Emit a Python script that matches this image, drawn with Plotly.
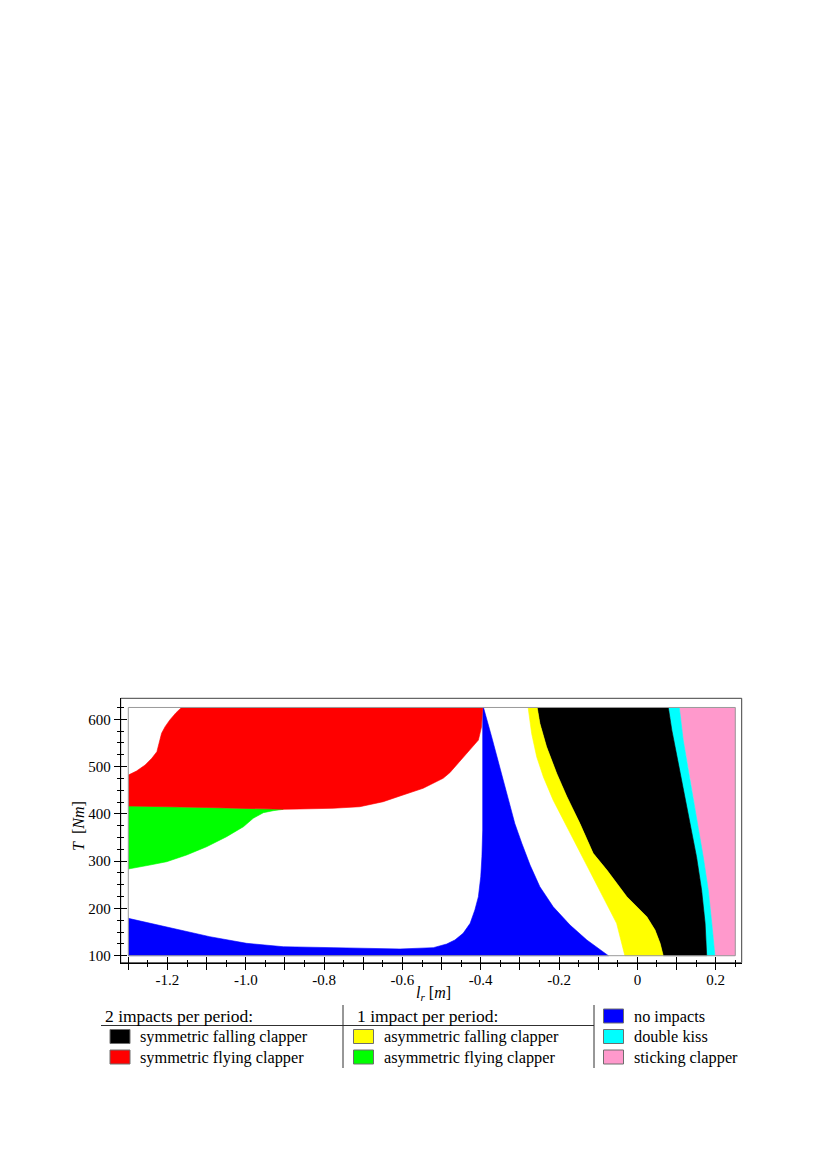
import plotly.graph_objects as go

# colores de las regiones
BLACK = '#000000'
RED = '#FF0000'
YELLOW = '#FFFF00'
GREEN = '#00FF00'
BLUE = '#0000FF'
CYAN = '#00FFFF'
PINK = '#FF99CC'
FONT = 'Liberation Serif, Times New Roman, serif'

# extent of the map in data units
L_RANGE = [-1.3, 0.25]
T_RANGE = [100, 625]

# region boundaries, (l_r, T)
RED_TOP_L = [-1.3, -1.279, -1.257, -1.240, -1.227, -1.221, -1.215, -1.206, -1.194, -1.178, -1.164]
RED_TOP_T = [482, 490.6, 503.3, 517.5, 531.5, 549.2, 570.4, 584.4, 598.5, 614, 625]

RED_BOTTOM_L = [-1.3, -1.1, -0.904, -0.862, -0.777, -0.709, -0.649, -0.606, -0.547,
                -0.496, -0.479, -0.436, -0.406, -0.398, -0.395]
RED_BOTTOM_T = [416.6, 413.5, 409.6, 410.3, 411.8, 415.1, 425.7, 437.8, 454.1,
                475.2, 487, 528, 556, 584, 625]

GREEN_BOTTOM_L = [-1.3, -1.245, -1.202, -1.151, -1.100, -1.049, -1.006, -0.981, -0.955, -0.930, -0.904]
GREEN_BOTTOM_T = [283.4, 291.8, 298.8, 313, 330.5, 351.7, 372.8, 390.6, 402.5, 406.7, 409.6]

BLUE_TOP_L = [-1.3, -1.202, -1.092, -0.998, -0.904, -0.777, -0.606, -0.521, -0.487, -0.466,
              -0.445, -0.427, -0.415, -0.406, -0.400, -0.397, -0.395, -0.395]
BLUE_TOP_T = [179, 161.3, 140.2, 126.2, 119, 117, 114.2, 117, 124.7, 133.2,
              147.3, 168.5, 196.7, 224.8, 267, 309.4, 365.8, 625]

BLUE_RIGHT_L = [-0.393, -0.372, -0.351, -0.330, -0.313, -0.295, -0.274, -0.249, -0.215, -0.172, -0.129, -0.074]
BLUE_RIGHT_T = [625, 562.6, 499.2, 435.9, 379.7, 337.4, 291.6, 245.8, 203.5, 164.9, 133.2, 100]

YELLOW_LEFT_L = [-0.279, -0.270, -0.257, -0.240, -0.215, -0.180, -0.147, -0.113, -0.078, -0.053, -0.032]
YELLOW_LEFT_T = [625, 569.8, 520.4, 478.1, 428.9, 372.5, 321.8, 266.9, 210.7, 168.4, 100]

BLACK_LEFT_L = [-0.256, -0.249, -0.232, -0.206, -0.180, -0.147, -0.113, -0.078, -0.027, 0.024, 0.045, 0.058, 0.066]
BLACK_LEFT_T = [625, 591.2, 541.9, 485.5, 436.3, 380, 316.6, 281.3, 224.8, 182.5, 154.4, 126.2, 100]

CYAN_LEFT_L = [0.079, 0.088, 0.100, 0.117, 0.134, 0.151, 0.164, 0.173, 0.177]
CYAN_LEFT_T = [625, 577, 521, 450.5, 380, 309.4, 239, 168.5, 100]

PINK_LEFT_L = [0.107, 0.117, 0.134, 0.151, 0.168, 0.181, 0.190, 0.198]
PINK_LEFT_T = [625, 556, 478.6, 394, 309.4, 239, 168.5, 100]

# ejes
X_MAJOR = [-1.3, -1.2, -1.1, -1.0, -0.9, -0.8, -0.7, -0.6, -0.5, -0.4, -0.3, -0.2, -0.1, 0.0, 0.1, 0.2]
X_LABELS = ['', '-1.2', '', '-1.0', '', '-0.8', '', '-0.6', '', '-0.4', '', '-0.2', '', '0', '', '0.2']
X_MINOR = [-1.25, -1.15, -1.05, -0.95, -0.85, -0.75, -0.65, -0.55, -0.45, -0.35, -0.25, -0.15, -0.05, 0.05, 0.15, 0.25]
Y_MAJOR = [100, 200, 300, 400, 500, 600]
Y_LABELS = ['100', '200', '300', '400', '500', '600']
Y_MINOR = [125, 150, 175, 225, 250, 275, 325, 350, 375, 425, 450, 475, 525, 550, 575, 625]

# leyenda
LEGEND_HEADERS = ['2 impacts per period:', '1 impact per period:']
LEGEND_NAMES = [['symmetric falling clapper', 'symmetric flying clapper'],
                ['asymmetric falling clapper', 'asymmetric flying clapper'],
                ['no impacts', 'double kiss', 'sticking clapper']]
LEGEND_COLORS = [[BLACK, RED], [YELLOW, GREEN], [BLUE, CYAN, PINK]]

# the page body has an 8px margin
PAD = 8
W, H = 825 - PAD, 1170 - PAD


def px(x):
    return (x - PAD) / W


def py(y):
    return 1 - (y - PAD) / H


def region(xs, ys, color):
    return go.Scatter(x=xs, y=ys, mode='lines', fill='toself', fillcolor=color,
                      line=dict(color=color, width=0.6), hoverinfo='skip', showlegend=False)


fig = go.Figure()

# regiones (derecha a izquierda)
fig.add_trace(region(PINK_LEFT_L + [L_RANGE[1], L_RANGE[1]],
                     PINK_LEFT_T + [T_RANGE[0], T_RANGE[1]], PINK))
fig.add_trace(region(CYAN_LEFT_L + PINK_LEFT_L[::-1], CYAN_LEFT_T + PINK_LEFT_T[::-1], CYAN))
fig.add_trace(region(BLACK_LEFT_L + CYAN_LEFT_L[::-1], BLACK_LEFT_T + CYAN_LEFT_T[::-1], BLACK))
fig.add_trace(region(YELLOW_LEFT_L + BLACK_LEFT_L[::-1], YELLOW_LEFT_T + BLACK_LEFT_T[::-1], YELLOW))
fig.add_trace(region(BLUE_TOP_L + BLUE_RIGHT_L + [L_RANGE[0]],
                     BLUE_TOP_T + BLUE_RIGHT_T + [T_RANGE[0]], BLUE))
n_green = sum(1 for v in RED_BOTTOM_L if v <= GREEN_BOTTOM_L[-1])
fig.add_trace(region(RED_BOTTOM_L[:n_green] + GREEN_BOTTOM_L[::-1],
                     RED_BOTTOM_T[:n_green] + GREEN_BOTTOM_T[::-1], GREEN))
fig.add_trace(region(RED_TOP_L + RED_BOTTOM_L[::-1], RED_TOP_T + RED_BOTTOM_T[::-1], RED))

# eje auxiliar para las marcas hacia dentro
fig.add_trace(go.Scatter(x=[], y=[], xaxis='x2', yaxis='y2', showlegend=False, hoverinfo='skip'))

x_rng = [-1.3194, 0.2664]
y_rng = [85.2, 644.4]
x_dom = [px(120.7), px(741.7)]
y_dom = [py(962.7), py(698.3)]

common = dict(showgrid=False, zeroline=False, tickmode='array', tickcolor='black', tickwidth=1, ticklen=6)
fig.update_layout(
    width=W, height=H, autosize=False,
    margin=dict(l=0, r=0, t=0, b=0),
    paper_bgcolor='white', plot_bgcolor='white',
    font=dict(family=FONT, size=15, color='black'),
    showlegend=False,
    xaxis=dict(domain=x_dom, range=x_rng, showline=True, linecolor='black', linewidth=1,
               ticks='outside', tickvals=X_MAJOR, ticktext=X_LABELS, ticklabelstandoff=-3,
               minor=dict(tickvals=X_MINOR, ticks='outside', ticklen=3, tickcolor='black'),
               tickfont=dict(family=FONT, size=15), **common),
    yaxis=dict(domain=y_dom, range=y_rng, showline=True, linecolor='black', linewidth=1,
               ticks='outside', tickvals=Y_MAJOR, ticktext=Y_LABELS,
               minor=dict(tickvals=Y_MINOR, ticks='outside', ticklen=3, tickcolor='black'),
               tickfont=dict(family=FONT, size=15), **common),
    xaxis2=dict(overlaying='x', anchor='y2', side='bottom', range=x_rng, showline=False,
                ticks='inside', tickvals=X_MAJOR, showticklabels=False,
                minor=dict(tickvals=X_MINOR, ticks='inside', ticklen=3, tickcolor='black'), **common),
    yaxis2=dict(overlaying='y', anchor='x2', side='left', range=y_rng, showline=False,
                ticks='inside', tickvals=Y_MAJOR, showticklabels=False,
                minor=dict(tickvals=Y_MINOR, ticks='inside', ticklen=3, tickcolor='black'), **common),
)

shapes = [
    dict(type='rect', xref='x domain', yref='y domain', x0=0, x1=1, y0=0, y1=1,
         line=dict(color='#404040', width=1), layer='below'),
    dict(type='rect', xref='x', yref='y', x0=L_RANGE[0], x1=L_RANGE[1], y0=T_RANGE[0], y1=T_RANGE[1],
         line=dict(color='#9a9a9a', width=1), layer='above'),
]
annotations = [
    dict(text='<i>l<sub>r</sub></i> [<i>m</i>]', x=px(434), y=py(993), xref='paper', yref='paper',
         xanchor='center', yanchor='middle', showarrow=False, font=dict(family=FONT, size=16)),
    dict(text='<i>T</i>  [<i>Nm</i>]', x=px(79), y=py(826), xref='paper', yref='paper',
         xanchor='center', yanchor='middle', showarrow=False, textangle=-90,
         font=dict(family=FONT, size=16)),
]

# leyenda dibujada a mano
col_swatch_x = [110, 353.5, 603.5]
header_x = [103, 355]
row_y = [1016, 1036.5, 1057]
sw_w, sw_h = 20, 14
for i, head in enumerate(LEGEND_HEADERS):
    annotations.append(dict(text=head, x=px(header_x[i]), y=py(row_y[0]), xref='paper', yref='paper',
                            xanchor='left', yanchor='middle', showarrow=False,
                            font=dict(family=FONT, size=17.5)))
for c, (names, colors) in enumerate(zip(LEGEND_NAMES, LEGEND_COLORS)):
    first_row = 3 - len(names)
    for r, (name, color) in enumerate(zip(names, colors)):
        yc = row_y[first_row + r]
        x0 = col_swatch_x[c]
        shapes.append(dict(type='rect', xref='paper', yref='paper',
                           x0=px(x0), x1=px(x0 + sw_w), y0=py(yc + sw_h / 2), y1=py(yc - sw_h / 2),
                           fillcolor=color, line=dict(color='#6e6e6e', width=1)))
        annotations.append(dict(text=name, x=px(x0 + sw_w + 8), y=py(yc), xref='paper', yref='paper',
                                xanchor='left', yanchor='middle', showarrow=False,
                                font=dict(family=FONT, size=16.3)))

shapes.append(dict(type='line', xref='paper', yref='paper', x0=px(101), x1=px(594),
                   y0=py(1025.5), y1=py(1025.5), line=dict(color='#303030', width=1)))
for xv in [343, 594]:
    shapes.append(dict(type='line', xref='paper', yref='paper', x0=px(xv), x1=px(xv),
                       y0=py(1005), y1=py(1068), line=dict(color='#303030', width=1)))

fig.update_layout(shapes=shapes, annotations=annotations)

fig.write_html("out.html")
